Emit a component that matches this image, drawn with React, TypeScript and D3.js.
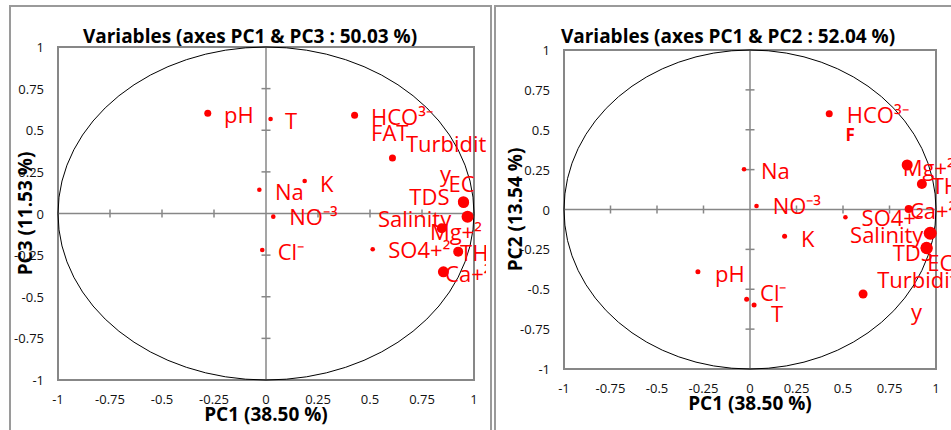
import React from "react";
import * as d3 from "d3";

const variables = ["pH", "T", "HCO³⁻", "Turbidity", "Na", "K", "EC", "TDS", "Salinity", "NO⁻³", "Cl⁻", "SO4+²", "Mg+²", "TH", "Ca+²"];
const pc1 = [-0.28, 0.022, 0.426, 0.608, -0.032, 0.186, 0.949, 0.95, 0.969, 0.035, -0.018, 0.513, 0.845, 0.924, 0.853];
const pc2 = [-0.39, -0.599, 0.6, -0.53, 0.252, -0.168, -0.24, -0.243, -0.149, 0.022, -0.563, -0.049, 0.279, 0.16, 0.003];
const pc3 = [0.602, 0.568, 0.59, 0.333, 0.143, 0.195, 0.071, 0.066, -0.019, -0.019, -0.219, -0.215, -0.089, -0.229, -0.35];
// marker weight (quality of representation) in each plane
const quality13 = [0.3, 0.06, 0.3, 0.3, 0.06, 0.06, 0.7, 0.7, 0.8, 0.06, 0.06, 0.06, 0.6, 0.6, 0.7];
const quality12 = [0.1, 0.1, 0.3, 0.5, 0.06, 0.1, 0.8, 0.8, 0.9, 0.06, 0.1, 0.06, 0.7, 0.6, 0.4];

// label anchors (start of text, vertical middle), in axis units
const labels13: [string, number, number][] = [
  ["pH", -0.202, 0.595], ["T", 0.091, 0.562], ["HCO³⁻", 0.505, 0.587], ["FAT", 0.505, 0.491],
  ["Turbidit", 0.673, 0.422], ["y", 0.837, 0.243], ["EC", 0.877, 0.186], ["TDS", 0.689, 0.106],
  ["Na", 0.043, 0.136], ["K", 0.26, 0.186], ["NO⁻³", 0.112, -0.014], ["Salinity", 0.538, -0.029],
  ["Mg+²", 0.788, -0.104], ["SO4+²", 0.588, -0.216], ["TH", 0.933, -0.234], ["Ca+²", 0.861, -0.359],
  ["Cl⁻", 0.056, -0.224],
];
const labels12: [string, number, number][] = [
  ["HCO³⁻", 0.52, 0.597], ["Na", 0.059, 0.245], ["NO⁻³", 0.122, 0.026], ["Mg+²", 0.821, 0.265],
  ["TH", 0.977, 0.154], ["SO4+²", 0.6, -0.05], ["Ca+²", 0.86, 0.0], ["Salinity", 0.538, -0.155],
  ["TDS", 0.767, -0.264], ["EC", 0.953, -0.332], ["Turbidit", 0.684, -0.437], ["y", 0.866, -0.635],
  ["K", 0.274, -0.176], ["pH", -0.188, -0.4], ["Cl⁻", 0.054, -0.515], ["T", 0.113, -0.646],
];
const boldLabels12: [string, number, number][] = [["F", 0.514, 0.473]];

const ticks = [-1, -0.75, -0.5, -0.25, 0, 0.25, 0.5, 0.75, 1];

const RED = "#ff0000";
const GRAY = "#878787";
const FONT = "'Open Sans', sans-serif";

type PanelProps = {
  id: string;
  frameX: number;
  box: { x0: number; x1: number; y0: number; y1: number };
  title: string;
  titleX: number;
  xTitle: string;
  yTitle: string;
  yTitleX: number;
  ys: number[];
  quality: number[];
  labels: [string, number, number][];
  bold?: [string, number, number][];
  clipRight: number;
};

const Panel = ({ id, frameX, box, title, titleX, xTitle, yTitle, yTitleX, ys, quality, labels, bold = [], clipRight }: PanelProps) => {
  const x = d3.scaleLinear().domain([-1, 1]).range([box.x0, box.x1]);
  const y = d3.scaleLinear().domain([-1, 1]).range([box.y1, box.y0]);
  const r = d3.scaleLinear().domain([0, 1]).range([2, 7]);
  const cx = x(0);
  const cy = y(0);
  const inner = ticks.filter((t) => Math.abs(t) < 1 && t !== 0);

  return (
    <g>
      <defs>
        <clipPath id={id}>
          <rect x={frameX} y={0} width={clipRight - frameX} height={430} />
        </clipPath>
      </defs>
      <rect x={frameX} y={6} width={481} height={440} fill="none" stroke="#9a9a9a" strokeWidth={2} />
      <text x={titleX} y={43} textAnchor="middle" fontFamily={FONT} fontWeight="bold" fontSize={19}>
        {title}
      </text>
      <rect x={box.x0} y={box.y0} width={box.x1 - box.x0} height={box.y1 - box.y0} fill="none" stroke={GRAY} strokeWidth={2} />
      <line x1={box.x0} x2={box.x1} y1={cy} y2={cy} stroke={GRAY} strokeWidth={1.5} />
      <line x1={cx} x2={cx} y1={box.y0} y2={box.y1} stroke={GRAY} strokeWidth={1.5} />
      {inner.map((t) => (
        <g key={t}>
          <line x1={x(t)} x2={x(t)} y1={cy - 4} y2={cy + 4} stroke={GRAY} strokeWidth={1.5} />
          <line x1={cx - 4.5} x2={cx + 4.5} y1={y(t)} y2={y(t)} stroke={GRAY} strokeWidth={1.5} />
        </g>
      ))}
      {ticks.map((t) => (
        <text key={"x" + t} x={x(t)} y={box.y1 + 19} textAnchor="middle" dominantBaseline="central" fontFamily={FONT} fontSize={13} fill="#111">
          {t}
        </text>
      ))}
      {ticks.map((t) => (
        <text key={"y" + t} x={box.x0 - 14} y={y(t)} textAnchor="end" dominantBaseline="central" fontFamily={FONT} fontSize={13} fill="#111">
          {t}
        </text>
      ))}
      <ellipse cx={cx} cy={cy} rx={x(1) - cx} ry={cy - y(1)} fill="none" stroke="#000" strokeWidth={1} />
      <text x={(box.x0 + box.x1) / 2} y={box.y1 + 41} textAnchor="middle" fontFamily={FONT} fontWeight="bold" fontSize={19}>
        {xTitle}
      </text>
      <text
        transform={`translate(${yTitleX},${cy}) rotate(-90)`}
        textAnchor="middle"
        dominantBaseline="central"
        fontFamily={FONT}
        fontWeight="bold"
        fontSize={19}
      >
        {yTitle}
      </text>
      <g clipPath={`url(#${id})`}>
        {variables.map((v, i) => (
          <circle key={v} cx={x(pc1[i])} cy={y(ys[i])} r={r(quality[i])} fill={RED} />
        ))}
        {labels.map(([t, lx, ly], i) => (
          <text key={i} x={x(lx)} y={y(ly)} dominantBaseline="central" fontFamily={FONT} fontSize={22} fill={RED}>
            {t}
          </text>
        ))}
        {bold.map(([t, lx, ly], i) => (
          <text key={"b" + i} x={x(lx)} y={y(ly)} dominantBaseline="central" fontFamily={FONT} fontWeight="bold" fontSize={17} fill={RED}>
            {t}
          </text>
        ))}
      </g>
    </g>
  );
};

export default function App() {
  return (
    <svg width={951} height={430} style={{ position: "absolute", left: 0, top: 0, background: "#fff" }}>
      <Panel
        id="clipL"
        frameX={10}
        box={{ x0: 58, x1: 474, y0: 47, y1: 380 }}
        title="Variables (axes PC1 & PC3 : 50.03 %)"
        titleX={250}
        xTitle="PC1 (38.50 %)"
        yTitle="PC3 (11.53 %)"
        yTitleX={25}
        ys={pc3}
        quality={quality13}
        labels={labels13}
        clipRight={486}
      />
      <Panel
        id="clipR"
        frameX={495}
        box={{ x0: 564, x1: 936, y0: 50, y1: 369 }}
        title="Variables (axes PC1 & PC2 : 52.04 %)"
        titleX={728}
        xTitle="PC1 (38.50 %)"
        yTitle="PC2 (13.54 %)"
        yTitleX={515}
        ys={pc2}
        quality={quality12}
        labels={labels12}
        bold={boldLabels12}
        clipRight={951}
      />
    </svg>
  );
}
